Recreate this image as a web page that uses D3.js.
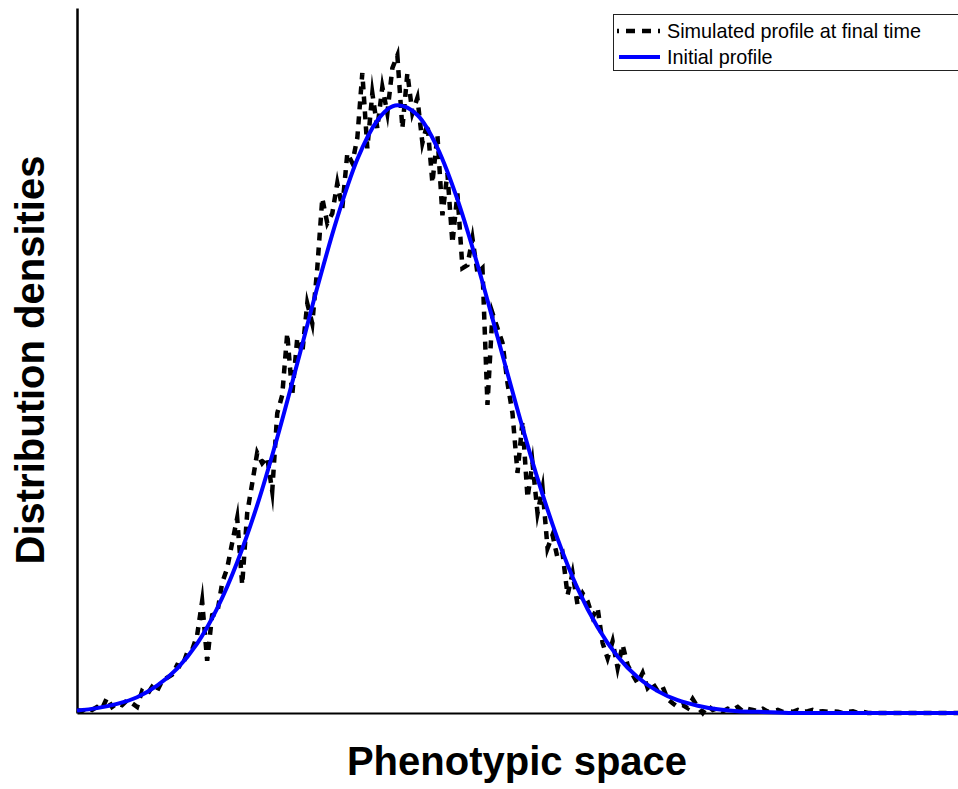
<!DOCTYPE html>
<html><head><meta charset="utf-8">
<script src="https://cdn.jsdelivr.net/npm/d3@7"></script>
<style>body{margin:0;background:#fff}</style>
</head><body>
<svg id="chart" width="958" height="789"></svg>
<script>
// ---- data ----
const xLabel = "Phenotypic space";
const yLabel = "Distribution densities";
const legendLabels = ["Simulated profile at final time", "Initial profile"];
const phenotypeRange = [0, 1];
const densityMax = 1.16;

// initial profile (45 equally spaced phenotypes)
const initialProfile = [0.004,0.008,0.015,0.026,0.045,0.073,0.114,0.172,0.248,0.342,
  0.453,0.575,0.700,0.815,0.911,0.975,1.000,0.984,0.930,0.845,
  0.738,0.619,0.499,0.386,0.287,0.205,0.141,0.093,0.059,0.036,
  0.021,0.012,0.006,0.003,0.002,0.001,0,0,0,0,
  0,0,0,0,0];

// simulated profile at final time (177 equally spaced phenotypes)
const simulatedProfile = [
  0.005,0.003,0.008,0.005,0.010,0.007,0.025,0.010,0.016,0.013,
  0.021,0.016,0.010,0.036,0.030,0.043,0.036,0.053,0.058,0.063,
  0.079,0.076,0.099,0.104,0.128,0.184,0.086,0.161,0.164,0.214,
  0.238,0.280,0.321,0.211,0.329,0.378,0.428,0.411,0.421,0.365,
  0.493,0.523,0.625,0.523,0.617,0.592,0.674,0.641,0.732,0.847,
  0.806,0.822,0.872,0.831,0.921,0.905,0.946,1.053,0.929,1.020,
  0.962,1.030,0.987,1.061,1.082,0.962,1.053,0.987,1.012,0.938,
  0.970,0.872,0.951,0.819,0.888,0.773,0.855,0.732,0.737,0.781,
  0.724,0.732,0.507,0.658,0.633,0.609,0.543,0.493,0.395,0.480,
  0.354,0.411,0.329,0.370,0.271,0.293,0.255,0.263,0.194,0.230,
  0.178,0.197,0.184,0.158,0.173,0.115,0.090,0.118,0.074,0.112,
  0.079,0.063,0.049,0.066,0.041,0.049,0.036,0.043,0.023,0.016,
  0.010,0.013,0.008,0.023,0.010,0,0.012,0.005,0.008,0.003,
  0.007,0.005,0.010,0.003,0.007,0.005,0.003,0.007,0.002,0.003,
  0.005,0.002,0.003,0.002,0.005,0.002,0.003,0.005,0.002,0.003,
  0.002,0.003,0.002,0,0.002,0.003,0,0.002,0,0,
  0,0,0,0,0,0,0,0,0,0,
  0,0,0,0,0,0,0];

// ---- drawing ----
const svg = d3.select("#chart");
const plot = {left: 77, right: 958, top: 8, bottom: 713};

const x = d3.scaleLinear().domain(phenotypeRange).range([plot.left, plot.right]);
const y = d3.scaleLinear().domain([0, densityMax]).range([plot.bottom, plot.top]);

function toPoints(arr) {
  const idx = d3.scaleLinear().domain([0, arr.length - 1]).range(phenotypeRange);
  return arr.map((v, i) => [idx(i), v]);
}

// axes (no ticks)
svg.append("g").attr("transform", `translate(${plot.left},0)`)
  .call(d3.axisLeft(y).tickValues([]).tickSizeOuter(0))
  .call(g => g.select(".domain").attr("stroke", "#000").attr("stroke-width", 2.5));
svg.append("g").attr("transform", `translate(0,${plot.bottom})`)
  .call(d3.axisBottom(x).tickValues([]).tickSizeOuter(0))
  .call(g => g.select(".domain").attr("stroke", "#000").attr("stroke-width", 2));

const line = d3.line().x(d => x(d[0])).y(d => y(d[1]));

svg.append("path")
  .datum(toPoints(simulatedProfile))
  .attr("fill", "none")
  .attr("stroke", "#000")
  .attr("stroke-width", 4.5)
  .attr("stroke-dasharray", "8,7")
  .attr("stroke-linejoin", "miter")
  .attr("stroke-miterlimit", 10)
  .attr("d", line.curve(d3.curveLinear));

svg.append("path")
  .datum(toPoints(initialProfile))
  .attr("fill", "none")
  .attr("stroke", "#0000ff")
  .attr("stroke-width", 4)
  .attr("d", d3.line().x(d => x(d[0])).y(d => y(d[1])).curve(d3.curveMonotoneX));

// axis labels
svg.append("text")
  .attr("x", 517).attr("y", 775)
  .attr("text-anchor", "middle")
  .attr("font-family", "'Liberation Sans', Arial, sans-serif")
  .attr("font-weight", "bold").attr("font-size", 40)
  .text(xLabel);
svg.append("text")
  .attr("transform", "translate(44,360) rotate(-90)")
  .attr("text-anchor", "middle")
  .attr("font-family", "'Liberation Sans', Arial, sans-serif")
  .attr("font-weight", "bold").attr("font-size", 40)
  .text(yLabel);

// legend
const lg = svg.append("g");
lg.append("rect").attr("x", 613.5).attr("y", 14.5).attr("width", 400).attr("height", 56)
  .attr("fill", "#fff").attr("stroke", "#222").attr("stroke-width", 1);
lg.append("line").attr("x1", 617).attr("x2", 660).attr("y1", 31).attr("y2", 31)
  .attr("stroke", "#000").attr("stroke-width", 4.5)
  .attr("stroke-dasharray", "9,7").attr("stroke-dashoffset", 7);
lg.append("line").attr("x1", 619).attr("x2", 660).attr("y1", 57).attr("y2", 57)
  .attr("stroke", "#0000ff").attr("stroke-width", 4);
lg.selectAll("text.leg").data(legendLabels).join("text")
  .attr("class", "leg")
  .attr("x", 667).attr("y", (d, i) => 38 + i * 26)
  .attr("font-family", "'Liberation Sans', Arial, sans-serif")
  .attr("font-size", 19.8)
  .text(d => d);
</script>
</body></html>
